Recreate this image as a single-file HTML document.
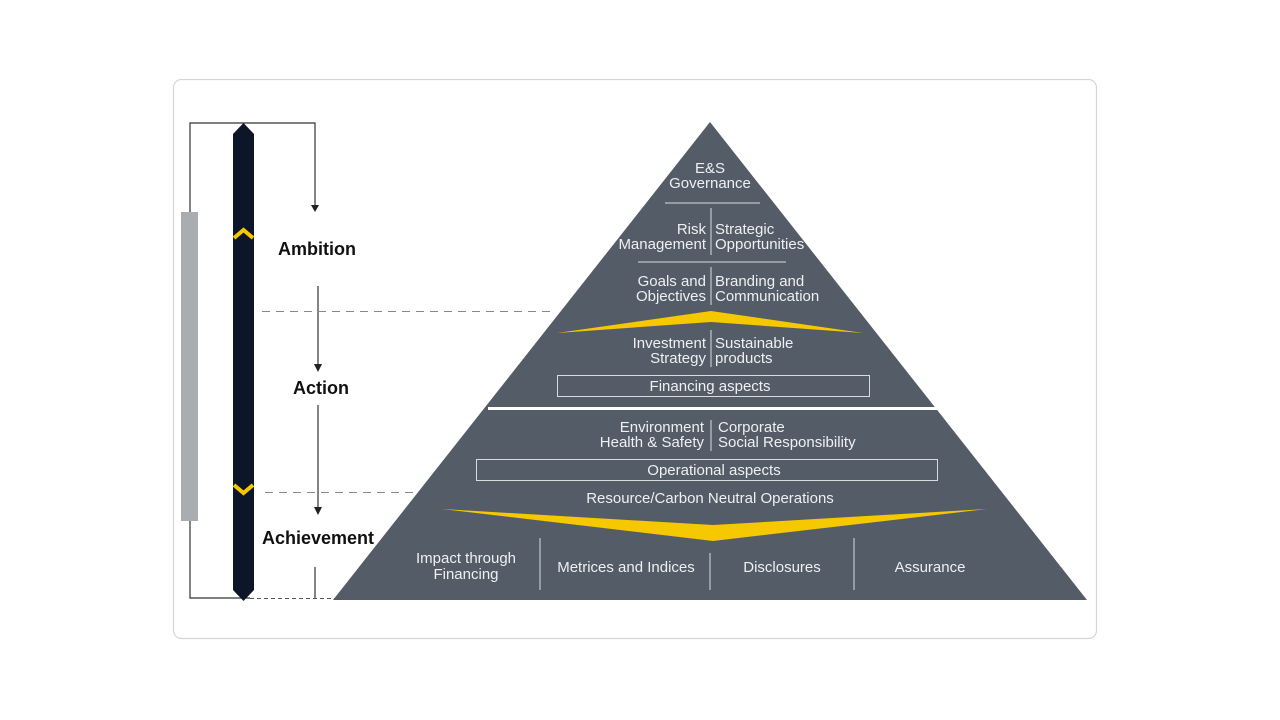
<!DOCTYPE html>
<html><head><meta charset="utf-8"><style>
html,body{margin:0;padding:0;background:#fff;}
svg{display:block}
text{font-family:"Liberation Sans",sans-serif;}
</style></head><body>
<svg width="1280" height="720" viewBox="0 0 1280 720">
<rect x="173.5" y="79.5" width="923" height="559" rx="8" fill="#fff" stroke="#d6d6d6" stroke-width="1.2"/>
<polyline points="190,212 190,123 315,123 315,207" fill="none" stroke="#333" stroke-width="1.2"/>
<polygon points="311,205 319,205 315,212" fill="#222"/>
<polyline points="190,520 190,598 250,598" fill="none" stroke="#333" stroke-width="1.2"/>
<line x1="250" y1="598.5" x2="335" y2="598.5" stroke="#555" stroke-width="1" stroke-dasharray="4,3"/>
<line x1="315" y1="567" x2="315" y2="598" stroke="#333" stroke-width="1.2"/>
<rect x="181" y="212" width="17" height="309" fill="#a9adb1"/>
<polygon points="243.5,123 254,134 254,590 243.5,601 233,590 233,134" fill="#0d1628"/>
<polyline points="234,238 243.5,230 253,238" fill="none" stroke="#f5c800" stroke-width="4"/>
<polyline points="234,485 243.5,493 253,485" fill="none" stroke="#f5c800" stroke-width="4"/>
<line x1="318" y1="286" x2="318" y2="365" stroke="#333" stroke-width="1.2"/>
<polygon points="314,364 322,364 318,372" fill="#222"/>
<line x1="318" y1="405" x2="318" y2="508" stroke="#333" stroke-width="1.2"/>
<polygon points="314,507 322,507 318,515" fill="#222"/>
<line x1="262" y1="311.5" x2="556" y2="311.5" stroke="#888" stroke-width="1" stroke-dasharray="8,6"/>
<line x1="265" y1="492.5" x2="416" y2="492.5" stroke="#888" stroke-width="1" stroke-dasharray="8,6"/>
<text x="317" y="255" font-size="18" font-weight="bold" fill="#111" text-anchor="middle">Ambition</text>
<text x="321" y="394" font-size="18" font-weight="bold" fill="#111" text-anchor="middle">Action</text>
<text x="318" y="544" font-size="18" font-weight="bold" fill="#111" text-anchor="middle">Achievement</text>
<polygon points="710,122 1087,600 333,600" fill="#545c67"/>
<line x1="488" y1="408.5" x2="940" y2="408.5" stroke="#fff" stroke-width="3"/>
<polygon points="557,333 711,311 863,333 711,322" fill="#f5c800"/>
<polygon points="442,509 713,525 987,509 713,541" fill="#f5c800"/>
<g fill="#eef0f2" font-size="15">
<text x="710" y="173" text-anchor="middle">E&amp;S</text>
<text x="710" y="188" text-anchor="middle">Governance</text>
<line x1="665" y1="203" x2="760" y2="203" stroke="#d8dbe0" stroke-width="1"/>
<text x="706" y="234" text-anchor="end">Risk</text>
<text x="706" y="249" text-anchor="end">Management</text>
<text x="715" y="234">Strategic</text>
<text x="715" y="249">Opportunities</text>
<line x1="711" y1="208" x2="711" y2="255" stroke="#d8dbe0"/>
<line x1="638" y1="262" x2="786" y2="262" stroke="#d8dbe0"/>
<text x="706" y="286" text-anchor="end">Goals and</text>
<text x="706" y="301" text-anchor="end">Objectives</text>
<text x="715" y="286">Branding and</text>
<text x="715" y="301">Communication</text>
<line x1="711" y1="267" x2="711" y2="305" stroke="#d8dbe0"/>
<text x="706" y="348" text-anchor="end">Investment</text>
<text x="706" y="363" text-anchor="end">Strategy</text>
<text x="715" y="348">Sustainable</text>
<text x="715" y="363">products</text>
<line x1="711" y1="330" x2="711" y2="367" stroke="#d8dbe0"/>
<rect x="557.5" y="375.5" width="312" height="21" fill="none" stroke="#d8dbe0"/>
<text x="710" y="391" text-anchor="middle">Financing aspects</text>
<text x="704" y="432" text-anchor="end">Environment</text>
<text x="704" y="447" text-anchor="end">Health &amp; Safety</text>
<text x="718" y="432">Corporate</text>
<text x="718" y="447">Social Responsibility</text>
<line x1="711" y1="420" x2="711" y2="451" stroke="#d8dbe0"/>
<rect x="476.5" y="459.5" width="461" height="21" fill="none" stroke="#d8dbe0"/>
<text x="714" y="475" text-anchor="middle">Operational aspects</text>
<text x="710" y="503" text-anchor="middle">Resource/Carbon Neutral Operations</text>
<text x="466" y="563" text-anchor="middle">Impact through</text>
<text x="466" y="579" text-anchor="middle">Financing</text>
<line x1="540" y1="538" x2="540" y2="590" stroke="#d8dbe0"/>
<text x="626" y="572" text-anchor="middle">Metrices and Indices</text>
<line x1="710" y1="553" x2="710" y2="590" stroke="#d8dbe0"/>
<text x="782" y="572" text-anchor="middle">Disclosures</text>
<line x1="854" y1="538" x2="854" y2="590" stroke="#d8dbe0"/>
<text x="930" y="572" text-anchor="middle">Assurance</text>
</g>
</svg>
</body></html>
